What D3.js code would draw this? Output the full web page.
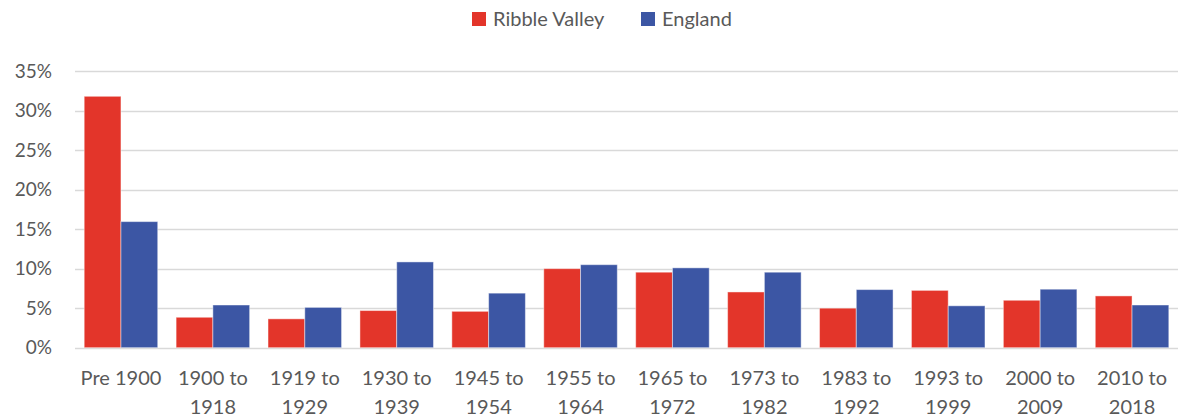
<!DOCTYPE html>
<html>
<head>
<meta charset="utf-8">
<script src="https://cdn.jsdelivr.net/npm/d3@7"></script>
<style>
  body { margin: 0; background: #fff; }
  text { font-family: Lato, "Open Sans", sans-serif; fill: #595959; }
</style>
</head>
<body>
<div id="chart"></div>
<script>
  const categories = ["Pre 1900", "1900 to 1918", "1919 to 1929", "1930 to 1939", "1945 to 1954",
    "1955 to 1964", "1965 to 1972", "1973 to 1982", "1983 to 1992", "1993 to 1999",
    "2000 to 2009", "2010 to 2018"];
  const seriesNames = ["Ribble Valley", "England"];
  const ribbleValley = [31.8, 3.85, 3.65, 4.7, 4.6, 10.0, 9.55, 7.05, 5.0, 7.25, 6.0, 6.55];
  const england = [15.95, 5.4, 5.1, 10.85, 6.9, 10.5, 10.1, 9.55, 7.35, 5.3, 7.4, 5.4];
  const yTicks = [0, 5, 10, 15, 20, 25, 30, 35];
  const colors = ["#E3352A", "#3C56A4"];

  const width = 1178;
  const height = 419;
  const margin = { top: 71, right: 0, bottom: 72, left: 75 };

  const data = categories.map((c, i) => ({ cat: c, values: [ribbleValley[i], england[i]] }));

  const svg = d3.select("#chart")
    .append("svg")
    .attr("width", width)
    .attr("height", height);

  const x = d3.scaleBand()
    .domain(categories)
    .range([margin.left, width - margin.right])
    .paddingInner(0.2)
    .paddingOuter(0.1);

  const x1 = d3.scaleBand()
    .domain(seriesNames)
    .range([0, x.bandwidth()]);

  const y = d3.scaleLinear()
    .domain([0, 35])
    .range([height - margin.bottom + 0.7, margin.top]);

  // gridlines
  svg.append("g")
    .selectAll("line")
    .data(yTicks)
    .join("line")
    .attr("x1", margin.left)
    .attr("x2", width - margin.right)
    .attr("y1", d => Math.round(y(d)) + 0.5)
    .attr("y2", d => Math.round(y(d)) + 0.5)
    .attr("stroke", "#D9D9D9")
    .attr("stroke-width", 1.5);

  // bars
  svg.append("g")
    .selectAll("g")
    .data(data)
    .join("g")
    .attr("transform", d => `translate(${x(d.cat)},0)`)
    .selectAll("rect")
    .data(d => d.values.map((v, i) => ({ key: seriesNames[i], v, i })))
    .join("rect")
    .attr("x", d => x1(d.key))
    .attr("y", d => y(d.v))
    .attr("width", x1.bandwidth())
    .attr("height", d => y(0) - y(d.v))
    .attr("fill", d => colors[d.i])
    .attr("stroke", "rgba(255,255,255,0.45)")
    .attr("stroke-width", 1);

  // y axis labels
  const yAxis = svg.append("g")
    .attr("transform", `translate(${margin.left},0)`)
    .call(d3.axisLeft(y).tickValues(yTicks).tickFormat(d => d + "%").tickSize(0).tickPadding(23));
  yAxis.select(".domain").remove();
  yAxis.selectAll("text")
    .style("font-size", "19px")
    .attr("fill", "#595959");

  // x axis labels (wrapped like the original)
  const xAxis = svg.append("g")
    .attr("transform", `translate(0,${height - margin.bottom})`)
    .call(d3.axisBottom(x).tickSize(0).tickFormat(""));
  xAxis.select(".domain").remove();
  xAxis.selectAll(".tick")
    .append("text")
    .attr("text-anchor", "middle")
    .style("font-size", "20px")
    .attr("fill", "#595959")
    .each(function (d) {
      const parts = d.includes(" to ") ? [d.slice(0, d.lastIndexOf(" ")), d.slice(d.lastIndexOf(" ") + 1)] : [d];
      d3.select(this).selectAll("tspan")
        .data(parts)
        .join("tspan")
        .attr("x", 0)
        .attr("y", (p, j) => 38 + j * 29)
        .text(p => p);
    });

  // legend
  const legend = svg.append("g");
  const legendX = [472, 641];
  seriesNames.forEach((name, i) => {
    legend.append("rect")
      .attr("x", legendX[i])
      .attr("y", 12)
      .attr("width", 14)
      .attr("height", 14)
      .attr("fill", colors[i]);
    legend.append("text")
      .attr("x", legendX[i] + 21)
      .attr("y", 26)
      .style("font-size", "20px")
      .text(name);
  });
</script>
</body>
</html>
